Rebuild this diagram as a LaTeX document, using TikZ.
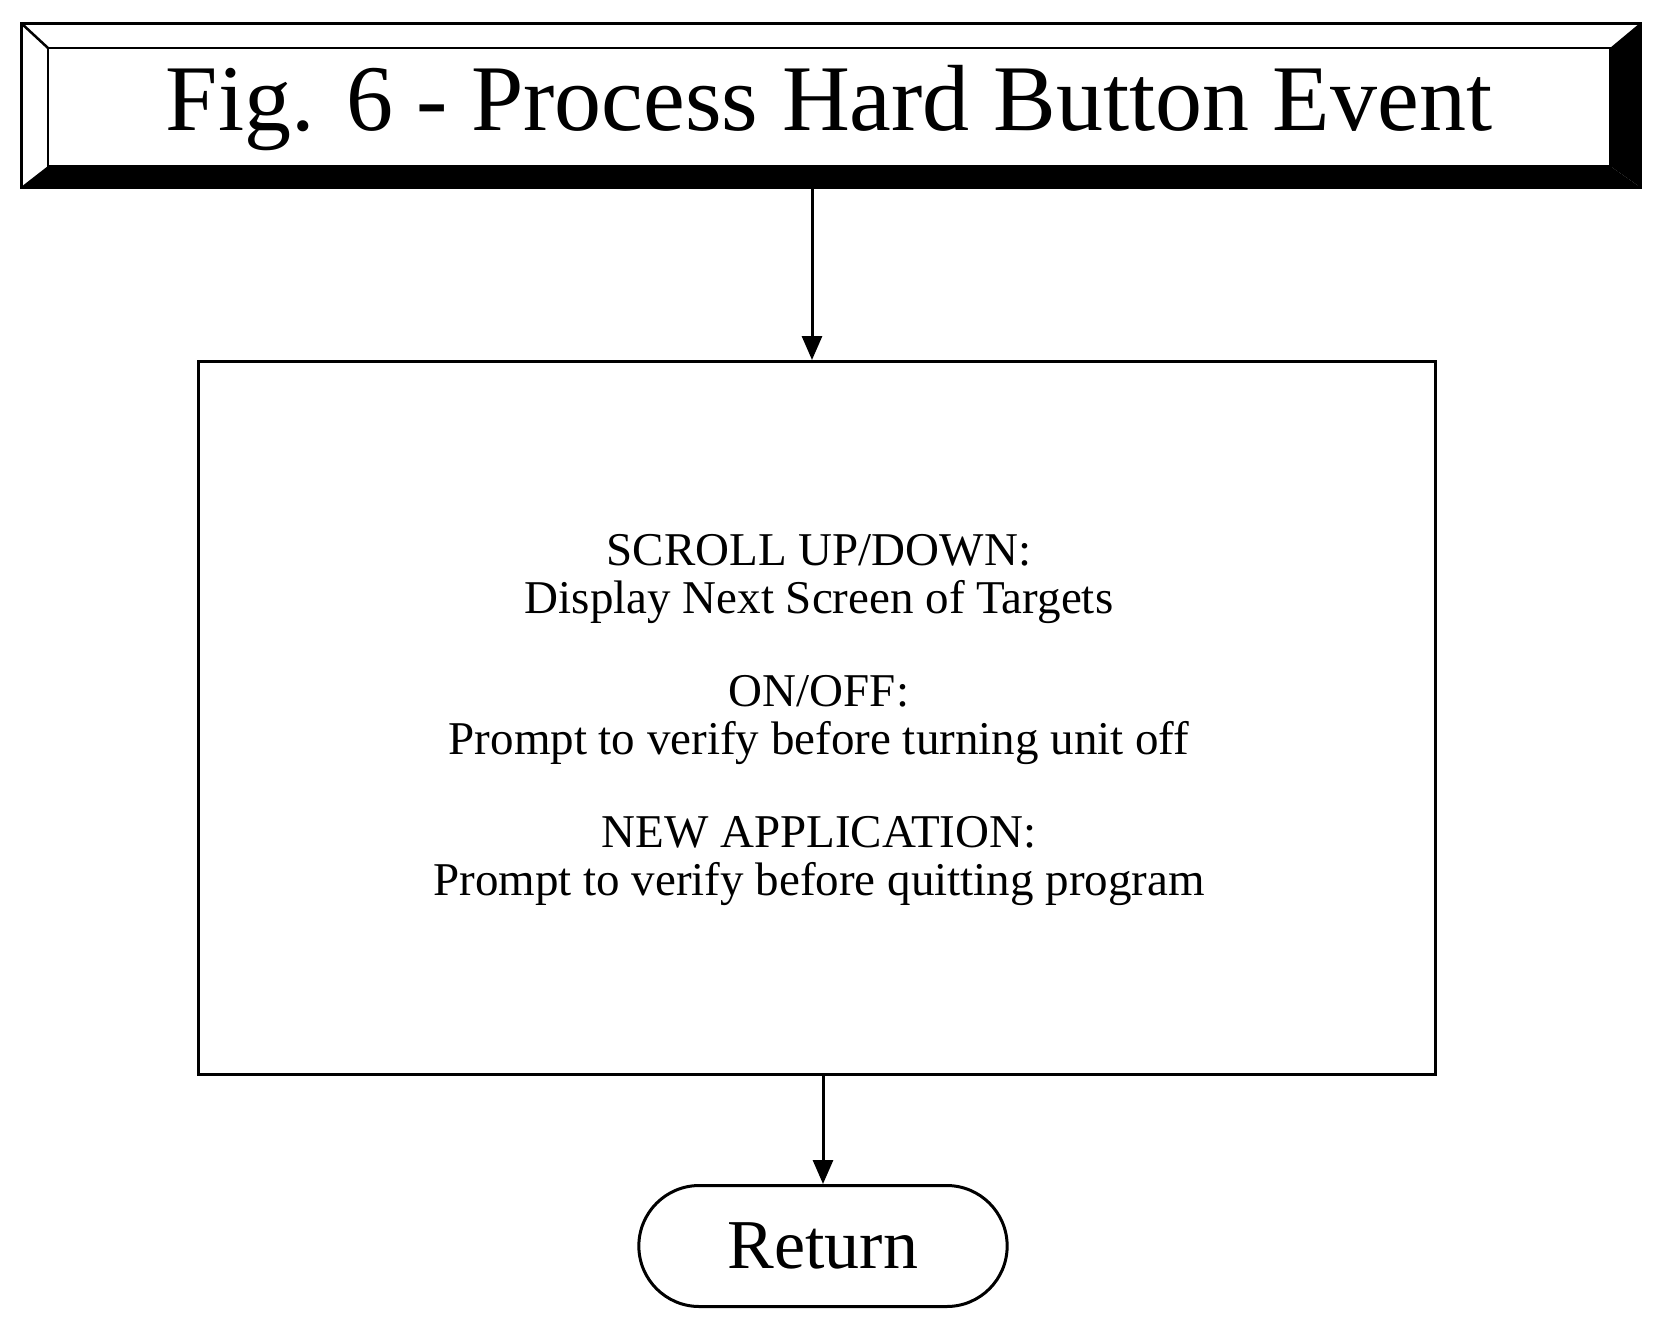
\documentclass[tikz,border=0pt]{standalone}
\usepackage{fontspec}
\setmainfont{Liberation Serif}
\usetikzlibrary{arrows.meta,shapes.misc}
\tikzset{
  flow/.style={draw, line width=3pt},
  link/.style={line width=3pt, -{Triangle[length=24pt,width=20pt]}},
  bodytext/.style={font=\fontsize{47}{48}\selectfont, align=center}
}
\begin{document}
\begin{tikzpicture}[x=1pt,y=-1pt]
    \useasboundingbox (0,0) rectangle (1660,1323);
    % Title box with bevel
    \draw[line width=3pt] (21,23) rectangle (1640,187);
    \draw[line width=2.5pt] (48,48) rectangle (1610,166);
    \fill (1610,48) -- (1640,23) -- (1640,187) -- (1610,166) -- cycle;
    \fill (48,166) -- (1610,166) -- (1640,187) -- (21,187) -- cycle;
    \draw[line width=2.5pt] (21,23) -- (48,48);
    \node (title) at (829,108) {\fontsize{94}{100}\selectfont Fig. 6 - Process Hard Button Event};
    \coordinate (titlebot) at (812,187);

    % Main box
    \node[flow, minimum width=1237pt, minimum height=713pt] (events) at (817,718) {};
    \node[bodytext] (scroll) at (819,579) {SCROLL UP/DOWN:\\Display Next Screen of Targets};
    \node[bodytext] (onoff) at (819,720) {ON/OFF:\\Prompt to verify before turning unit off};
    \node[bodytext] (newapp) at (819,861) {NEW APPLICATION:\\Prompt to verify before quitting program};

    % Return
    \node[flow, rounded rectangle, minimum width=375pt, minimum height=121pt,
          font=\fontsize{70}{76}\selectfont] (ret) at (823,1246) {Return};

    \draw[link] (titlebot) -- (titlebot |- events.north);
    \draw[link] (events.south -| ret.north) -- (ret.north);
\end{tikzpicture}
\end{document}
